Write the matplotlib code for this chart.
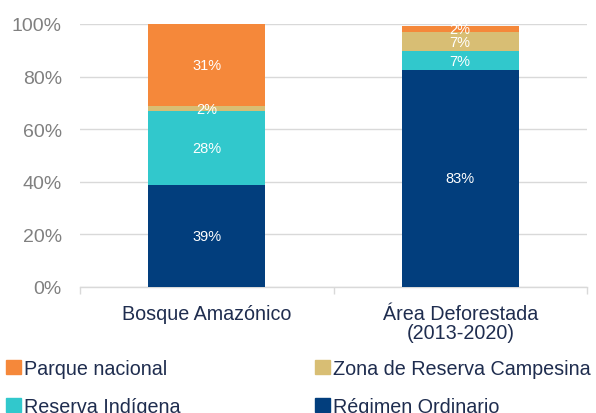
import matplotlib
matplotlib.use("Agg")
import matplotlib.pyplot as plt
from matplotlib.patches import Patch
import numpy as np

plt.rcParams["font.family"] = ["Liberation Sans", "DejaVu Sans"]

# ---- data (percent of each area) ----
categories = ["Bosque Amazónico", "Área Deforestada\n(2013-2020)"]
regimen    = [38.8, 82.6]
indigena   = [28.2, 7.0]
campesina  = [1.7, 7.2]
parque     = [31.3, 2.4]
labels_reg = ["39%", "83%"]
labels_ind = ["28%", "7%"]
labels_cam = ["2%", "7%"]
labels_par = ["31%", "2%"]

NAVY   = "#023E7D"
CYAN   = "#31C8CC"
TAN    = "#D8BE74"
ORANGE = "#F5883A"
GRID   = "#D9D9D9"
TICK   = "#808080"
CAT    = "#1F2D4F"

fig = plt.figure(figsize=(5.96, 4.14), dpi=100)
ax = fig.add_axes([80 / 596, 1 - 288 / 414, 507 / 596, 263 / 414])

x = np.arange(len(categories))
w = 0.46
series = [(regimen, NAVY, labels_reg), (indigena, CYAN, labels_ind),
          (campesina, TAN, labels_cam), (parque, ORANGE, labels_par)]
bottom = np.zeros(len(categories))
for vals, col, labs in series:
    vals = np.array(vals)
    ax.bar(x, vals, w, bottom=bottom, color=col, zorder=3)
    for xi, b, v, t in zip(x, bottom, vals, labs):
        ax.text(xi, b + v / 2, t, ha="center", va="center", color="white",
                fontsize=10.5, zorder=4)
    bottom += vals

ax.set_xlim(-0.5, 1.5)
ax.set_ylim(0, 100)
ax.set_yticks(np.arange(0, 101, 20))
ax.set_yticklabels([f"{v}%" for v in range(0, 101, 20)], color=TICK, fontsize=14)
ax.yaxis.grid(True, color=GRID, lw=1, zorder=0)
ax.tick_params(axis="y", length=0, pad=13)

ax.set_xticks(x)
ax.set_xticklabels(categories, color=CAT, fontsize=14.2, linespacing=1.0)
ax.tick_params(axis="x", length=0, pad=12)
ax.set_xticks([-0.5, 0.5, 1.5], minor=True)
ax.tick_params(axis="x", which="minor", length=5, color=GRID, width=1)

for s in ["top", "right", "left"]:
    ax.spines[s].set_visible(False)
ax.spines["bottom"].set_color(GRID)
ax.spines["bottom"].set_linewidth(1)

# legend: second row is partly clipped by the figure edge, as in the source
handles = [Patch(color=ORANGE, label="Parque nacional"),
           Patch(color=CYAN, label="Reserva Indígena"),
           Patch(color=TAN, label="Zona de Reserva Campesina"),
           Patch(color=NAVY, label="Régimen Ordinario")]
fig.legend(handles=handles, ncol=2, loc="upper left",
           bbox_to_anchor=(0.0, 1 - 354 / 414), frameon=False,
           fontsize=14.2, handlelength=0.75, handleheight=0.75, handletextpad=0.15,
           columnspacing=6.85, labelspacing=0.95, borderaxespad=0, borderpad=0.3,
           labelcolor=CAT)

fig.savefig("out.png", dpi=100, facecolor="white")
